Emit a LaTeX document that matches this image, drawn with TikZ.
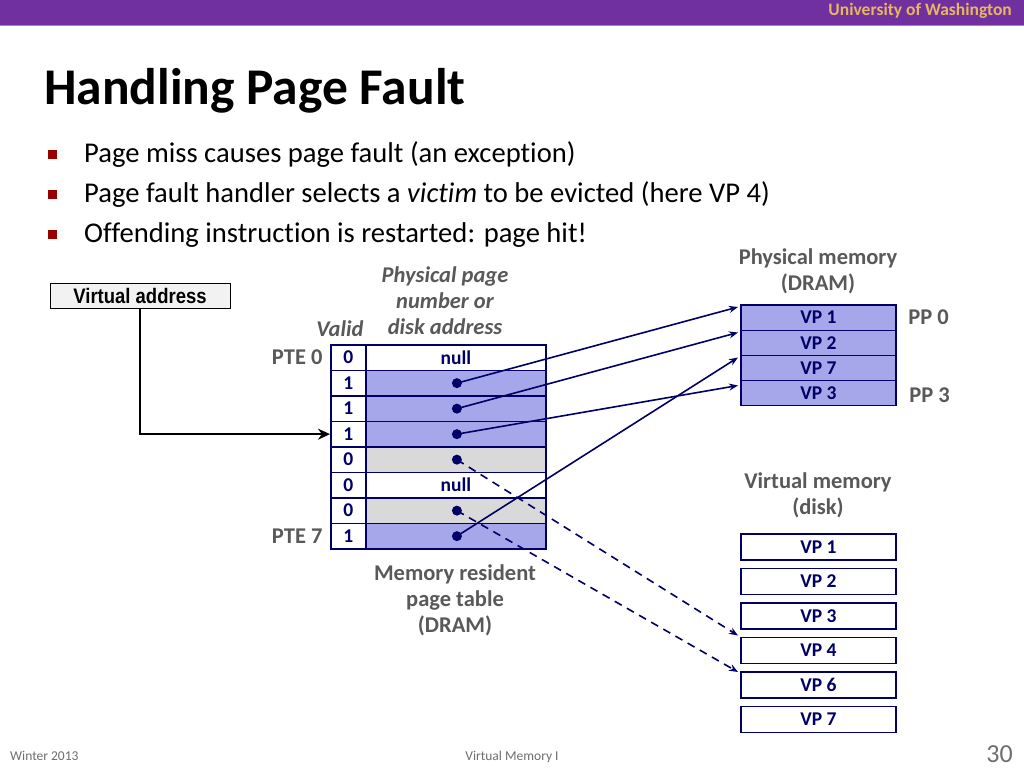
\documentclass[tikz,border=0pt]{standalone}
\usepackage{fontspec}
\setmainfont{Carlito}[Ligatures=NoCommon]
\newfontfamily\narrowfont[FakeStretch=0.88]{Liberation Sans}
\usetikzlibrary{arrows.meta}
\definecolor{uwpurple}{RGB}{112,48,160}
\definecolor{uwgold}{RGB}{232,182,96}
\definecolor{navy}{RGB}{0,0,102}
\definecolor{lav}{RGB}{166,166,234}
\definecolor{lgray}{RGB}{217,217,217}
\definecolor{labgray}{RGB}{89,89,89}
\definecolor{footgray}{RGB}{110,110,110}
\definecolor{bulletred}{RGB}{153,0,0}
\definecolor{vabox}{RGB}{242,242,242}
\begin{document}
\begin{tikzpicture}[x=1pt,y=-1pt,
  cell/.style={draw=navy, line width=1.8pt, minimum height=25.5pt, inner sep=0pt,
    font=\fontsize{19.5}{19.5}\selectfont\bfseries, text=navy, anchor=north west},
  vcell/.style={cell, minimum width=35pt, fill=white},
  acell/.style={cell, minimum width=180pt},
  memcell/.style={cell, minimum width=155pt, fill=lav},
  diskcell/.style={cell, minimum width=155pt, minimum height=26pt, fill=white},
  dot/.style={circle, fill=navy, inner sep=0pt, minimum size=10pt},
  lab/.style={text=labgray, font=\fontsize{22.5}{26}\selectfont\bfseries, align=center},
  ilab/.style={lab, font=\fontsize{22.5}{26}\selectfont\bfseries\itshape},
  ptr/.style={draw=navy, line width=1.6pt, -{Stealth[length=9pt,width=7pt]}},
  dptr/.style={ptr, dash pattern=on 8pt off 6pt},
  bul/.style={fill=bulletred, minimum size=9pt, inner sep=0pt},
  btext/.style={anchor=base west, inner sep=0pt, font=\fontsize{28.6}{32}\selectfont},
]
\useasboundingbox (0,0) rectangle (1024,768);
\fill[white] (0,0) rectangle (1024,768);
% header
\fill[uwpurple] (0,0) rectangle (1024,25);
\draw[line width=1pt, color={rgb,255:red,165;green,125;blue,205}] (0,25.5) -- (1024,25.5);
\node[anchor=east, inner sep=0pt, text=uwgold, font=\fontsize{17.5}{18}\selectfont\bfseries] (uw) at (1012,11) {University of Washington};
\node[anchor=base west, inner sep=0pt, font=\fontsize{51.5}{56}\selectfont\bfseries] (title) at (44,104) {Handling Page Fault};
% bullets
\node[bul] (b1) at (52,154) {};
\node[btext] (t1) at (84,162) {Page miss causes page fault (an exception)};
\node[bul] (b2) at (52,194) {};
\node[btext] (t2) at (84,202) {Page fault handler selects a \textit{victim} to be evicted (here VP 4)};
\node[bul] (b3) at (52,234) {};
\node[btext] (t3) at (84,242) {Offending instruction is restarted: page hit!};
% virtual address
\node[draw=black, line width=1pt, fill=vabox, minimum width=180pt, minimum height=25pt, inner sep=0pt,
  font=\narrowfont\fontsize{21}{21}\selectfont\bfseries] (va) at (140,295.5) {Virtual address};
% page table
\node[vcell] (v0) at (330,344) {0};
\node[acell, fill=white] (a0) at (365,344) {null};
\node[vcell] (v1) at (330,369.5) {1};
\node[acell, fill=lav] (a1) at (365,369.5) {};
\node[vcell] (v2) at (330,395) {1};
\node[acell, fill=lav] (a2) at (365,395) {};
\node[vcell] (v3) at (330,420.5) {1};
\node[acell, fill=lav] (a3) at (365,420.5) {};
\node[vcell] (v4) at (330,446) {0};
\node[acell, fill=lgray] (a4) at (365,446) {};
\node[vcell] (v5) at (330,471.5) {0};
\node[acell, fill=white] (a5) at (365,471.5) {null};
\node[vcell] (v6) at (330,497) {0};
\node[acell, fill=lgray] (a6) at (365,497) {};
\node[vcell] (v7) at (330,522.5) {1};
\node[acell, fill=lav] (a7) at (365,522.5) {};
\foreach \i in {1,2,3,4,6,7} { \node[dot] (d\i) at ([xshift=1pt]a\i.center) {}; }
% table labels
\node[ilab] (valid) at (340,329) {Valid};
\node[ilab] (ppn) at (445,301) {Physical page\\number or\\disk address};
\node[lab, anchor=east] (pte0) at ([xshift=-4pt]v0.west) {PTE 0};
\node[lab, anchor=east] (pte7) at ([xshift=-4pt]v7.west) {PTE 7};
\node[lab] (mrpt) at (455,600) {Memory resident\\page table\\(DRAM)};
% physical memory
\node[lab] (pmlab) at (818,271) {Physical memory\\(DRAM)};
\node[memcell] (p1) at (740,304) {VP 1};
\node[memcell, minimum height=25pt] (p2) at (740,329.5) {VP 2};
\node[memcell, minimum height=25pt] (p3) at (740,354.5) {VP 7};
\node[memcell, minimum height=25pt] (p4) at (740,379.5) {VP 3};
\node[lab, anchor=west] (pp0) at ([xshift=8pt]p1.east) {PP 0};
\node[lab, anchor=west] (pp3) at ([xshift=9pt,yshift=-2pt]p4.east) {PP 3};
% virtual memory
\node[lab] (vmlab) at (818,495) {Virtual memory\\(disk)};
\node[diskcell] (s1) at (740,533) {VP 1};
\node[diskcell] (s2) at (740,567.5) {VP 2};
\node[diskcell] (s3) at (740,602) {VP 3};
\node[diskcell] (s4) at (740,636.5) {VP 4};
\node[diskcell] (s6) at (740,671) {VP 6};
\node[diskcell] (s7) at (740,705.5) {VP 7};
% connectors
\draw[line width=2.5pt, -{Stealth[length=12pt,width=11pt]}] (va.south) |- (v3.west);
\draw[ptr] (d1.center) -- ([xshift=-2pt,yshift=-3pt]p1.north west);
\draw[ptr] (d2.center) -- ([xshift=-2pt,yshift=-3pt]p2.north west);
\draw[ptr] (d3.center) -- ([xshift=-2pt,yshift=-6pt]p4.north west);
\draw[ptr] (d7.center) -- ([xshift=-2pt,yshift=-3pt]p3.north west);
\draw[dptr] (d4.center) -- ([xshift=-2pt,yshift=1pt]s4.north west);
\draw[dptr] (d6.center) -- ([xshift=-2pt,yshift=-1pt]s6.north west);
% footer
\node[anchor=base west, inner sep=0pt, text=footgray, font=\fontsize{13.5}{14}\selectfont] (win) at (10,760) {Winter 2013};
\node[anchor=base, inner sep=0pt, text=footgray, font=\fontsize{13.5}{14}\selectfont] (vm) at (512,760) {Virtual Memory I};
\node[anchor=base east, inner sep=0pt, text=footgray, font=\fontsize{26}{28}\selectfont] (pg) at (1013,762) {30};
\end{tikzpicture}
\end{document}
